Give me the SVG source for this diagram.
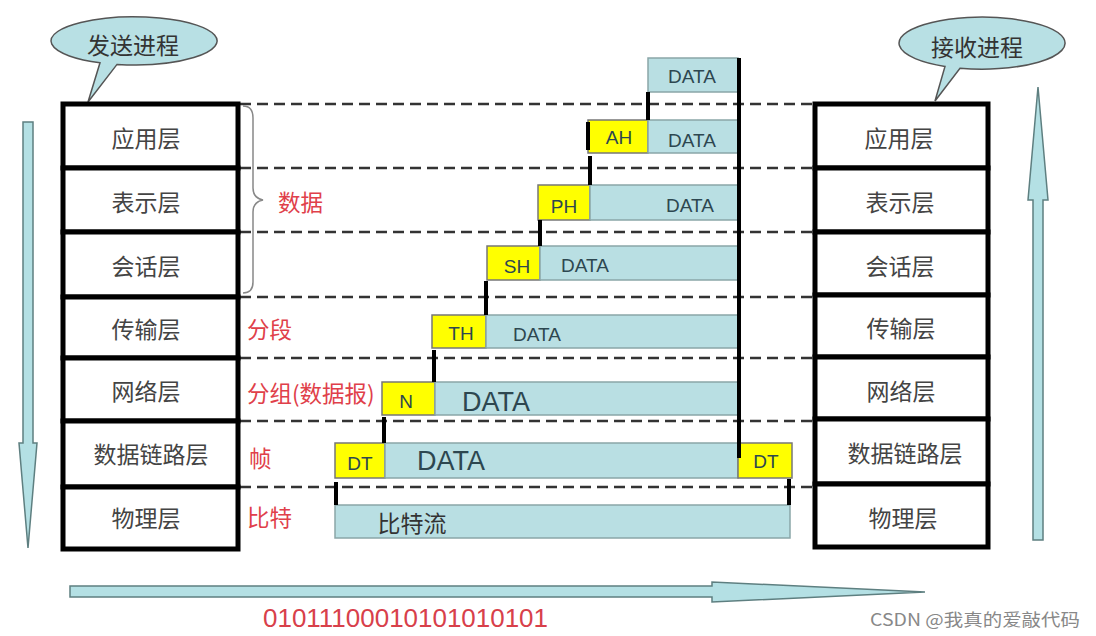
<svg xmlns="http://www.w3.org/2000/svg" width="1096" height="636" viewBox="0 0 1096 636">
<style>
.layer{fill:#fff;stroke:#000;stroke-width:5}
.lt{font-family:"Noto Sans CJK SC","Noto Sans",sans-serif;font-size:23px;fill:#444;text-anchor:middle;dominant-baseline:central}
.red{font-family:"Noto Sans CJK SC","Noto Sans",sans-serif;font-size:22.5px;fill:#e0404a;dominant-baseline:central}
.dash{stroke:#333;stroke-width:2.5;stroke-dasharray:11 6;fill:none}
.conn{stroke:#000;stroke-width:4;fill:none}
.data{fill:#b9dfe3;stroke:#8aa6a8;stroke-width:1.5}
.hdr{fill:#ffff00;stroke:#777;stroke-width:1.5}
.dt{font-family:"Liberation Sans",Arial,sans-serif;font-size:19px;fill:#2d4750;text-anchor:middle;dominant-baseline:central}
.big{font-size:27px}
.arrow{fill:#b4e0e4;stroke:#5e7f80;stroke-width:1.5}
.bubble{fill:#b8e0e4;stroke:#555;stroke-width:1.5}
.bt{font-family:"Noto Sans CJK SC","Noto Sans",sans-serif;font-size:23px;fill:#333;text-anchor:middle;dominant-baseline:central}
</style>

<!-- arrows -->
<g id="arrow-down">
<path class="arrow" d="M23,122 L33,122 L33,443 L37,443 L28,548 L19,443 L23,443 Z"/>
</g>
<g id="arrow-up">
<path class="arrow" d="M1033,540 L1043,540 L1043,200 L1048,200 L1038,87 L1028,200 L1033,200 Z"/>
</g>
<g id="arrow-right">
<path class="arrow" d="M70,586 L712,586 L712,582 L925,592 L712,602 L712,597 L70,597 Z"/>
</g>

<!-- bubbles -->
<g id="bubble-send">
<path class="bubble" d="M100,62.8 A83,24 0 1 1 117,64.4 L88,102 Z"/>
<text class="bt" x="133" y="44">发送进程</text>
</g>
<g id="bubble-recv">
<path class="bubble" d="M945,66.4 A83,26 0 1 1 960,68.2 L935,101 Z"/>
<text class="bt" x="977" y="46">接收进程</text>
</g>

<!-- connectors -->
<g id="connectors">
<line class="dash" x1="240" y1="104" x2="815" y2="104"/>
<line class="dash" x1="240" y1="168" x2="815" y2="168"/>
<line class="dash" x1="240" y1="232" x2="815" y2="232"/>
<line class="dash" x1="240" y1="297" x2="815" y2="297"/>
<line class="dash" x1="240" y1="358" x2="815" y2="358"/>
<line class="dash" x1="240" y1="421" x2="815" y2="421"/>
<line class="dash" x1="240" y1="487" x2="815" y2="487"/>
<path d="M243,106 Q253,106 253,118 L253,188 Q253,198 263,200 Q253,202 253,212 L253,282 Q253,293 243,293" fill="none" stroke="#888" stroke-width="1.5"/>
</g>

<!-- left stack -->
<g id="left-stack">
<g id="l-app"><rect class="layer" x="63" y="104" width="175" height="64"/><text class="lt" x="146" y="137">应用层</text></g>
<g id="l-pres"><rect class="layer" x="63" y="168" width="175" height="64"/><text class="lt" x="146" y="201">表示层</text></g>
<g id="l-sess"><rect class="layer" x="63" y="232" width="175" height="65"/><text class="lt" x="146" y="265">会话层</text></g>
<g id="l-trans"><rect class="layer" x="63" y="297" width="175" height="61"/><text class="lt" x="146" y="328">传输层</text></g>
<g id="l-net"><rect class="layer" x="63" y="358" width="175" height="63"/><text class="lt" x="146" y="390">网络层</text></g>
<g id="l-link"><rect class="layer" x="63" y="421" width="175" height="66"/><text class="lt" x="151" y="453">数据链路层</text></g>
<g id="l-phys"><rect class="layer" x="63" y="487" width="175" height="62"/><text class="lt" x="146" y="517">物理层</text></g>
</g>

<!-- right stack -->
<g id="right-stack">
<g id="r-app"><rect class="layer" x="815" y="104" width="173" height="64"/><text class="lt" x="899" y="137">应用层</text></g>
<g id="r-pres"><rect class="layer" x="815" y="168" width="173" height="64"/><text class="lt" x="900" y="201">表示层</text></g>
<g id="r-sess"><rect class="layer" x="815" y="232" width="173" height="63"/><text class="lt" x="900" y="265">会话层</text></g>
<g id="r-trans"><rect class="layer" x="815" y="295" width="173" height="62"/><text class="lt" x="901" y="327">传输层</text></g>
<g id="r-net"><rect class="layer" x="815" y="357" width="173" height="62"/><text class="lt" x="901" y="390">网络层</text></g>
<g id="r-link"><rect class="layer" x="815" y="419" width="173" height="65"/><text class="lt" x="905" y="452">数据链路层</text></g>
<g id="r-phys"><rect class="layer" x="815" y="484" width="173" height="63"/><text class="lt" x="903" y="517">物理层</text></g>
</g>

<!-- red labels -->
<g id="labels">
<text class="red" x="278" y="201" font-size="24">数据</text>
<text class="red" x="247" y="328">分段</text>
<text class="red" x="247" y="392">分组(数据报)</text>
<text class="red" x="249" y="457">帧</text>
<text class="red" x="247" y="516">比特</text>
</g>

<!-- data units -->
<g id="pdu-app-data"><rect class="data" x="648" y="58" width="90" height="34"/><text class="dt" x="692" y="76">DATA</text></g>
<g id="pdu-ah"><rect class="hdr" x="588" y="120" width="60" height="33"/><text class="dt" x="619" y="137">AH</text><rect class="data" x="648" y="120" width="90" height="33"/><text class="dt" x="692" y="140">DATA</text></g>
<g id="pdu-ph"><rect class="hdr" x="538" y="185" width="52" height="35"/><text class="dt" x="564" y="206">PH</text><rect class="data" x="590" y="185" width="148" height="35"/><text class="dt" x="690" y="205">DATA</text></g>
<g id="pdu-sh"><rect class="hdr" x="487" y="246" width="53" height="34"/><text class="dt" x="517" y="266">SH</text><rect class="data" x="540" y="246" width="198" height="34"/><text class="dt" x="585" y="265">DATA</text></g>
<g id="pdu-th"><rect class="hdr" x="432" y="315" width="54" height="33"/><text class="dt" x="461" y="333">TH</text><rect class="data" x="486" y="315" width="252" height="33"/><text class="dt" x="537" y="334">DATA</text></g>
<g id="pdu-n"><rect class="hdr" x="382" y="382" width="53" height="33"/><text class="dt" x="406" y="401">N</text><rect class="data" x="435" y="382" width="303" height="33"/><text class="dt big" x="496" y="402">DATA</text></g>
<g id="pdu-dt"><rect class="hdr" x="335" y="443" width="50" height="35"/><text class="dt" x="360" y="463">DT</text><rect class="data" x="385" y="443" width="353" height="35"/><text class="dt big" x="451" y="461">DATA</text><rect class="hdr" x="738" y="443" width="54" height="35"/><text class="dt" x="766" y="461">DT</text></g>
<g id="pdu-bits"><rect class="data" x="335" y="505" width="455" height="33"/><text class="bt" x="412" y="522">比特流</text></g>

<g id="encap-lines">
<line class="conn" x1="739" y1="58" x2="739" y2="458"/>
<line class="conn" x1="648" y1="92" x2="648" y2="120"/>
<line class="conn" x1="588" y1="122" x2="588" y2="150"/>
<line class="conn" x1="590" y1="156" x2="590" y2="185"/>
<line class="conn" x1="540" y1="220" x2="540" y2="246"/>
<line class="conn" x1="486" y1="281" x2="486" y2="315"/>
<line class="conn" x1="434" y1="350" x2="434" y2="382"/>
<line class="conn" x1="384" y1="417" x2="384" y2="443"/>
<line class="conn" x1="336" y1="482" x2="336" y2="505"/>
<line class="conn" x1="789" y1="479" x2="789" y2="505"/>
</g>

<text x="263" y="618" font-family="Liberation Sans,Arial,sans-serif" font-size="26" fill="#d8404a" dominant-baseline="central" textLength="285" lengthAdjust="spacingAndGlyphs">01011100010101010101</text>
<text x="870" y="618" font-family="Noto Sans CJK SC,Noto Sans,sans-serif" font-size="17" fill="#888" dominant-baseline="central" textLength="210" lengthAdjust="spacingAndGlyphs">CSDN @我真的爱敲代码</text>
</svg>
